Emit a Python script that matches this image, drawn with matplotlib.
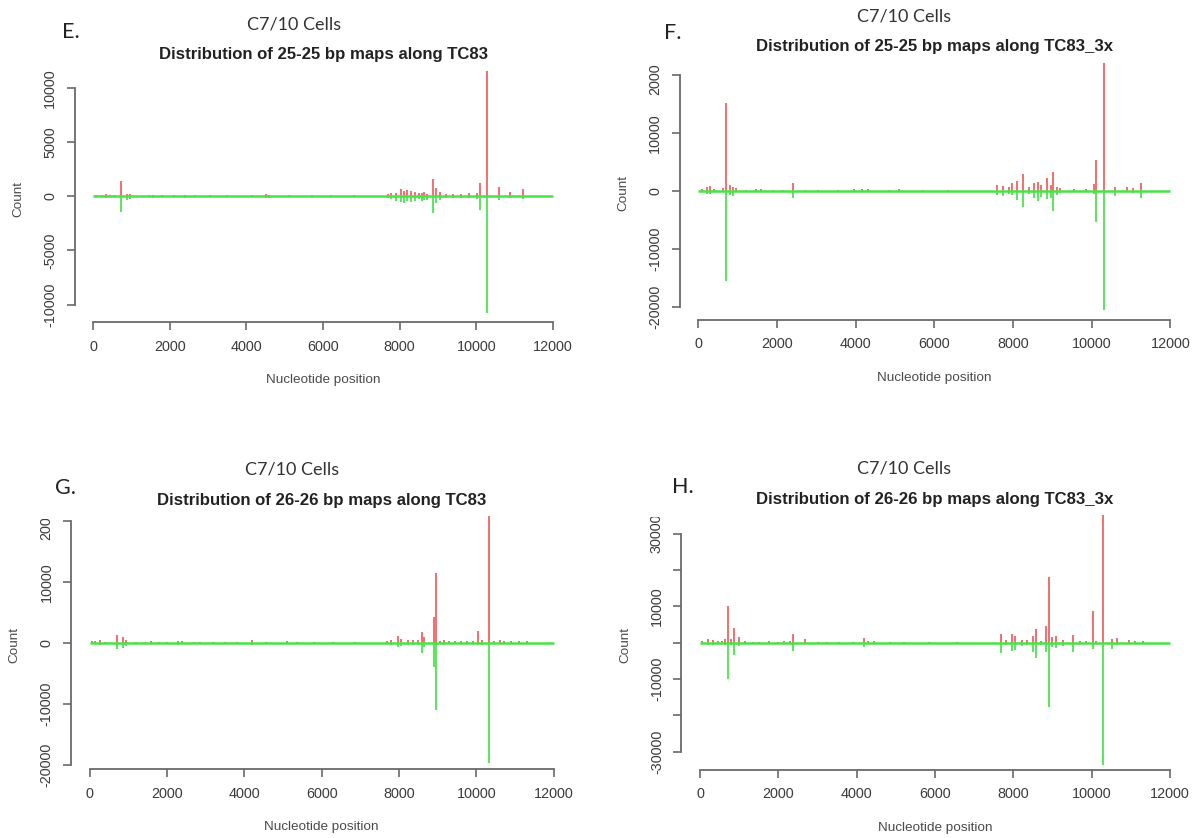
import matplotlib
matplotlib.use("Agg")
import matplotlib.pyplot as plt
from matplotlib.patches import Rectangle

W, H = 1199, 838
DPI = 100

# ---------------------------------------------------------------
# Read counts per nucleotide position (plus strand up, minus strand down)
# ---------------------------------------------------------------
x_ticks = [0, 2000, 4000, 6000, 8000, 10000, 12000]
x_tick_labels = ["0", "2000", "4000", "6000", "8000", "10000", "12000"]
genome_span = [0, 12000]

# E: 25-25 bp maps along TC83
e_pos = [80, 230, 340, 450, 560, 730, 880, 960, 1450, 1560, 1800, 2100, 2400,
         2650, 3050, 3500, 4150, 4520, 4580, 5100, 5700, 6200, 6800, 7700, 7780,
         7900, 8030, 8100, 8180, 8300, 8410, 8500, 8580, 8640, 8700, 8880, 8960,
         9050, 9220, 9400, 9600, 9800, 10020, 10100, 10290, 10600, 10880, 11230]
e_plus = [120, 150, 200, 100, 130, 1450, 250, 200, 120, 150, 100, 120, 150,
          120, 80, 80, 120, 200, 150, 130, 80, 80, 100, 250, 300,
          350, 700, 450, 580, 450, 430, 300, 350, 400, 250, 1570, 750,
          400, 250, 200, 250, 300, 350, 1250, 11600, 900, 430, 650]
e_minus = [80, 100, 120, 90, 100, 1450, 300, 250, 100, 120, 90, 100, 120,
           100, 70, 70, 100, 150, 120, 110, 70, 60, 80, 200, 250,
           400, 500, 650, 400, 500, 400, 250, 450, 350, 300, 1520, 600,
           300, 200, 150, 200, 200, 250, 1270, 10800, 350, 150, 280]
e_yticks = [-10000, -5000, 0, 5000, 10000]
e_ylabels = [-10000, -5000, 0, 5000, 10000]

# F: 25-25 bp maps along TC83_3x
f_pos = [80, 210, 290, 400, 620, 700, 790, 870, 950, 1200, 1450, 1600, 1900,
         2150, 2400, 2700, 3050, 3550, 3950, 4150, 4300, 4850, 5100, 5700, 6350,
         7600, 7750, 7900, 7980, 8090, 8250, 8400, 8530, 8640, 8700, 8860, 8960,
         9020, 9110, 9200, 9550, 9850, 10050, 10110, 10300, 10600, 10900, 11050,
         11250]
f_plus = [300, 700, 800, 300, 400, 15100, 900, 700, 400, 200, 250, 300, 200,
          200, 1300, 200, 150, 150, 300, 350, 300, 200, 250, 150, 150,
          990, 800, 700, 1270, 1730, 2800, 600, 1270, 1560, 900, 2250, 1000,
          3300, 700, 500, 300, 300, 1100, 5300, 22050, 700, 700, 500,
          1380]
f_minus = [200, 500, 600, 200, 300, 15600, 700, 900, 300, 150, 200, 200, 150,
           150, 1200, 150, 100, 100, 200, 300, 200, 150, 200, 100, 100,
           700, 900, 500, 800, 1610, 2900, 500, 1300, 1840, 1100, 1500, 1200,
           3500, 800, 400, 200, 200, 600, 5350, 20600, 1000, 300, 400,
           1300]
f_yticks = [-20000, -10000, 0, 10000, 20000]
f_ylabels = [-20000, -10000, 0, 10000, 20000]

# G: 26-26 bp maps along TC83
g_pos = [55, 150, 270, 400, 720, 870, 950, 1200, 1450, 1600, 1800, 2000, 2290,
         2400, 2700, 2850, 3200, 3500, 3800, 4190, 4550, 5100, 5350, 5800, 6300,
         6850, 7700, 7800, 7980, 8050, 8230, 8350, 8500, 8590, 8650, 8890, 8950,
         9050, 9150, 9300, 9450, 9600, 9750, 9900, 10050, 10150, 10330, 10450,
         10610, 10700, 10900, 11100, 11300]
g_plus = [350, 200, 400, 150, 1260, 1000, 400, 150, 150, 200, 150, 120, 350,
          250, 150, 120, 150, 120, 120, 450, 120, 250, 100, 120, 100,
          120, 300, 400, 1100, 600, 450, 500, 400, 1700, 900, 4260, 11470,
          350, 400, 300, 350, 350, 300, 300, 1920, 500, 20770, 300,
          400, 300, 200, 250, 200]
g_minus = [250, 150, 300, 100, 1090, 920, 500, 100, 100, 100, 100, 100, 300,
           200, 100, 100, 100, 100, 100, 400, 100, 200, 100, 100, 100,
           100, 200, 300, 760, 500, 400, 400, 300, 1740, 700, 3930, 11030,
           250, 300, 200, 250, 200, 200, 200, 400, 300, 19770, 200,
           250, 200, 150, 150, 150]
g_yticks = [-20000, -10000, 0, 10000, 20000]
g_ylabels = [-20000, -10000, 0, 10000, 20000]

# H: 26-26 bp maps along TC83_3x
h_pos = [50, 200, 320, 450, 550, 640, 707, 790, 870, 996, 1150, 1350, 1500,
         1750, 2000, 2150, 2300, 2380, 2680, 3000, 3250, 3550, 3900, 4190, 4300,
         4450, 4850, 5200, 5850, 6550, 7680, 7800, 7960, 8050, 8210, 8350, 8510,
         8580, 8700, 8825, 8915, 8980, 9080, 9280, 9520, 9700, 9850, 10025,
         10120, 10280, 10510, 10650, 10950, 11100, 11300]
h_plus = [500, 900, 700, 400, 600, 1100, 10100, 900, 3960, 1650, 400, 300, 300,
          400, 300, 500, 600, 2300, 1100, 300, 300, 300, 300, 1380, 500,
          400, 300, 300, 250, 250, 2300, 700, 2300, 1750, 830, 700, 1740,
          3850, 600, 4600, 18170, 1650, 1930, 800, 2000, 500, 600, 8720,
          500, 35150, 920, 1300, 800, 600, 500]
h_minus = [300, 600, 500, 300, 400, 700, 10080, 600, 3470, 800, 300, 200, 200,
           300, 200, 300, 400, 2300, 300, 200, 200, 200, 200, 1100, 300,
           300, 200, 200, 150, 150, 2750, 500, 2390, 2100, 1000, 600, 2570,
           4130, 500, 2500, 17700, 1200, 1400, 800, 2570, 300, 300, 1650,
           300, 33660, 1650, 600, 400, 300, 300]
h_yticks = [-30000, -20000, -10000, 0, 10000, 20000, 30000]
h_ylabels = [-30000, -10000, 10000, 30000]

RED = "#f25c5c"
GREEN = "#46e446"
AXIS_GREY = "#6a6a6a"
TEXT_GREY = "#3c3c3c"
LABEL_FONT = ["Liberation Sans", "DejaVu Sans"]
HEAD_FONT = ["Lato", "DejaVu Sans"]

fig = plt.figure(figsize=(W / DPI, H / DPI), dpi=DPI)
fig.patch.set_facecolor("white")


def fx(x):
    return x / W


def fy(y):
    return 1 - y / H


def draw_panel(rect, ylim, pos, plus, minus, yticks, ylabels, title,
               letter, letter_xy, head_xy, title_y, cover=None):
    x0, top, x1, bottom = rect
    ax = fig.add_axes([fx(x0), fy(bottom), (x1 - x0) / W, (bottom - top) / H])
    ax.set_xlim(-480, 12480)
    ax.set_ylim(*ylim)
    ax.patch.set_alpha(0)

    ax.vlines(pos, 0, plus, colors=RED, lw=1.25, zorder=2)
    ax.hlines(0, genome_span[0], genome_span[1], colors=GREEN, lw=1.8, zorder=3)
    ax.vlines(pos, [-m for m in minus], 0, colors=GREEN, lw=1.25, zorder=4)

    for side in ("top", "right"):
        ax.spines[side].set_visible(False)
    for side in ("left", "bottom"):
        ax.spines[side].set_color(AXIS_GREY)
        ax.spines[side].set_linewidth(1.3)
    ax.spines["bottom"].set_bounds(x_ticks[0], x_ticks[-1])
    ax.spines["left"].set_bounds(yticks[0], yticks[-1])

    ax.set_xticks(x_ticks)
    ax.set_yticks(yticks)
    ax.tick_params(axis="both", direction="out", length=5.5, width=1.2,
                   color=AXIS_GREY, labelbottom=False, labelleft=False)

    # tick labels in the R style: horizontal below, rotated on the left
    for t, lab in zip(x_ticks, x_tick_labels):
        ax.annotate(lab, xy=(t, 0), xycoords=("data", "axes fraction"),
                    xytext=(0, -17.6), textcoords="offset points",
                    ha="center", va="center", fontsize=10.4,
                    family=LABEL_FONT, color=TEXT_GREY)
    for t in ylabels:
        ax.annotate(str(t), xy=(0, t), xycoords=("axes fraction", "data"),
                    xytext=(-17.5, 0), textcoords="offset points",
                    ha="center", va="center", rotation=90, fontsize=10.4,
                    family=LABEL_FONT, color=TEXT_GREY, annotation_clip=False)

    ax.annotate("Nucleotide position", xy=(0.5, 0), xycoords="axes fraction",
                xytext=(0, -41.8), textcoords="offset points", ha="center",
                va="center", fontsize=9.7, family=LABEL_FONT, color="#4a4a4a")
    ax.annotate("Count", xy=(0, 0), xycoords=("axes fraction", "data"),
                xytext=(-40.5, -2), textcoords="offset points", ha="center",
                va="center", rotation=90, fontsize=9.7, family=LABEL_FONT,
                color="#4a4a4a", annotation_clip=False)

    # white box of the panel letter, hiding the top of the axis label
    if cover is not None:
        cx0, cy0, cx1, cy1 = cover
        fig.add_artist(Rectangle((fx(cx0), fy(cy1)), (cx1 - cx0) / W,
                                 (cy1 - cy0) / H, transform=fig.transFigure,
                                 facecolor="white", edgecolor="none", zorder=5))

    fig.text(fx((x0 + x1) / 2), fy(title_y), title, ha="center", va="center",
             fontsize=12.1, fontweight="bold", family=LABEL_FONT,
             color="#222222", zorder=10)
    fig.text(fx(head_xy[0]), fy(head_xy[1]), "C7/10 Cells", ha="center",
             va="center", fontsize=13, family=HEAD_FONT, color="#333333",
             zorder=10)
    fig.text(fx(letter_xy[0]), fy(letter_xy[1]), letter, ha="left",
             va="center", fontsize=15.5, family=HEAD_FONT, fontweight="normal",
             color="#222222", zorder=10)
    return ax


draw_panel((74.6, 61, 571.4, 322.3), (-11640, 12500), e_pos, e_plus, e_minus,
           e_yticks, e_ylabels, "Distribution of 25-25 bp maps along TC83",
           "E.", (62, 32.5), (293.8, 25), 55)
draw_panel((679.6, 55, 1189.3, 320), (-22330, 23430), f_pos, f_plus, f_minus,
           f_yticks, f_ylabels, "Distribution of 25-25 bp maps along TC83_3x",
           "F.", (664, 33), (903.8, 16), 46.7, cover=(640, 42, 674, 65))
draw_panel((71, 505, 572.4, 769.3), (-20750, 22570), g_pos, g_plus, g_minus,
           g_yticks, g_ylabels, "Distribution of 26-26 bp maps along TC83",
           "G.", (55, 488), (291.7, 469.3), 500, cover=(25, 490, 62, 519))
draw_panel((681.2, 505, 1188.8, 770), (-35050, 37910), h_pos, h_plus, h_minus,
           h_yticks, h_ylabels, "Distribution of 26-26 bp maps along TC83_3x",
           "H.", (672, 486.7), (904.4, 468.3), 499.3, cover=(638, 490, 674, 516.7))

fig.savefig("out.png", dpi=DPI, facecolor="white")
